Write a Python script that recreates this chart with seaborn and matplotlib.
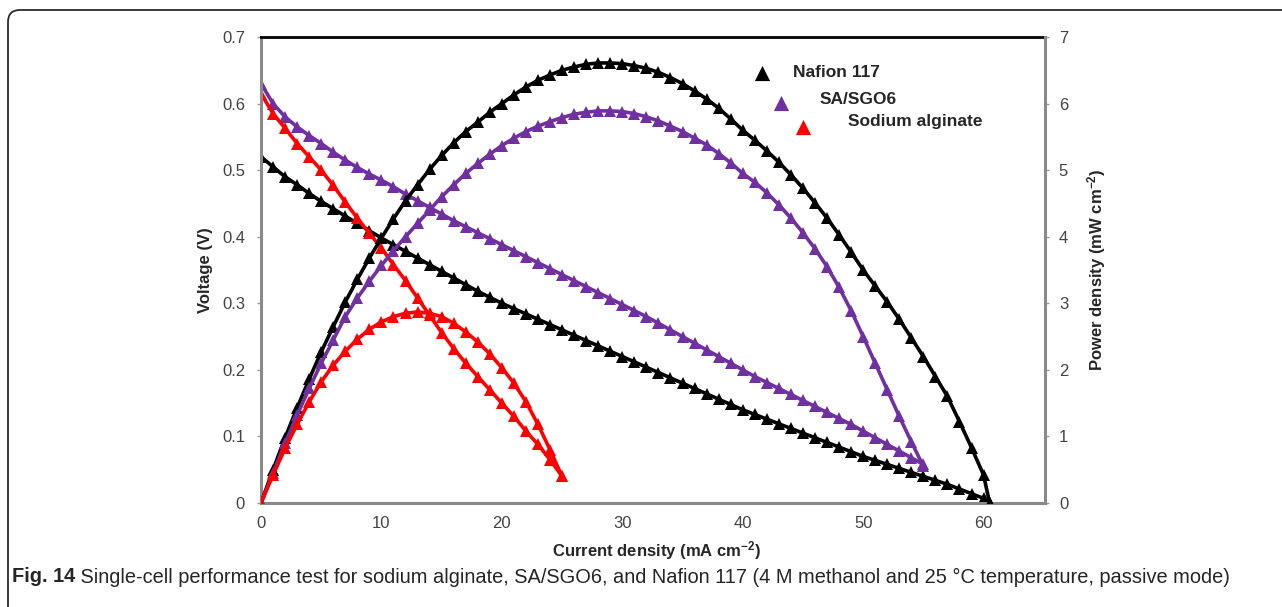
import matplotlib
matplotlib.use("Agg")
import matplotlib.pyplot as plt
import seaborn as sns
from matplotlib.path import Path
from matplotlib.patches import PathPatch


# Current density (mA cm-2)
current_nafion = list(range(0, 61)) + [60.5]
current_sgo = list(range(0, 56))
current_sa = list(range(0, 26))

# Voltage (V)
voltage_nafion = [
    0.520, 0.505, 0.490, 0.478, 0.465, 0.453, 0.442, 0.431, 0.420, 0.409,
    0.398, 0.388, 0.378, 0.368, 0.358, 0.348, 0.338, 0.328, 0.318, 0.309,
    0.300, 0.292, 0.284, 0.276, 0.268, 0.260, 0.252, 0.244, 0.236, 0.228,
    0.220, 0.212, 0.204, 0.196, 0.188, 0.180, 0.172, 0.164, 0.156, 0.148,
    0.140, 0.133, 0.126, 0.119, 0.112, 0.105, 0.098, 0.091, 0.084, 0.077,
    0.070, 0.064, 0.058, 0.052, 0.046, 0.040, 0.034, 0.028, 0.021, 0.014,
    0.007, 0.000
]
voltage_sgo = [
    0.630, 0.600, 0.580, 0.565, 0.552, 0.540, 0.527, 0.515, 0.504, 0.494,
    0.485, 0.475, 0.464, 0.454, 0.444, 0.434, 0.424, 0.415, 0.406, 0.397,
    0.388, 0.379, 0.370, 0.361, 0.352, 0.343, 0.334, 0.325, 0.316, 0.307,
    0.298, 0.289, 0.280, 0.270, 0.260, 0.250, 0.240, 0.230, 0.220, 0.210,
    0.200, 0.190, 0.181, 0.172, 0.163, 0.154, 0.145, 0.136, 0.127, 0.118,
    0.108, 0.098, 0.088, 0.078, 0.068, 0.058
]
voltage_sa = [
    0.615, 0.585, 0.563, 0.540, 0.520, 0.500, 0.477, 0.452, 0.428, 0.405,
    0.383, 0.358, 0.334, 0.308, 0.282, 0.256, 0.232, 0.210, 0.190, 0.170,
    0.150, 0.130, 0.108, 0.088, 0.065, 0.040
]

# Power density (mW cm-2)
power_nafion = [
    0.00, 0.50, 0.98, 1.43, 1.86, 2.27, 2.65, 3.02, 3.36, 3.68,
    3.98, 4.27, 4.54, 4.78, 5.01, 5.22, 5.41, 5.58, 5.72, 5.87,
    6.00, 6.13, 6.25, 6.35, 6.43, 6.50, 6.55, 6.59, 6.61, 6.61,
    6.60, 6.57, 6.53, 6.47, 6.39, 6.30, 6.19, 6.07, 5.93, 5.77,
    5.60, 5.45, 5.29, 5.12, 4.93, 4.73, 4.51, 4.28, 4.03, 3.77,
    3.50, 3.26, 3.02, 2.76, 2.48, 2.20, 1.90, 1.60, 1.22, 0.83,
    0.42, 0.00
]
power_sgo = [
    0.00, 0.45, 0.90, 1.32, 1.72, 2.10, 2.45, 2.80, 3.08, 3.33,
    3.57, 3.79, 4.00, 4.20, 4.40, 4.60, 4.78, 4.95, 5.10, 5.24,
    5.37, 5.48, 5.58, 5.66, 5.73, 5.79, 5.84, 5.87, 5.89, 5.89,
    5.88, 5.85, 5.80, 5.74, 5.66, 5.58, 5.48, 5.38, 5.25, 5.11,
    4.95, 4.82, 4.66, 4.48, 4.28, 4.06, 3.82, 3.55, 3.24, 2.89,
    2.50, 2.10, 1.70, 1.30, 0.92, 0.55
]
power_sa = [
    0.00, 0.42, 0.82, 1.18, 1.52, 1.82, 2.07, 2.28, 2.46, 2.61,
    2.72, 2.80, 2.85, 2.87, 2.85, 2.80, 2.70, 2.57, 2.42, 2.24,
    2.03, 1.80, 1.52, 1.18, 0.80, 0.40
]

labels = ["Nafion 117", "SA/SGO6", "Sodium alginate"]
colors = ["black", "#7030A0", "#FF0000"]

sns.set_style("white")
plt.rcParams["font.family"] = ["Liberation Sans", "DejaVu Sans"]
plt.rcParams["mathtext.default"] = "regular"

W, H = 1282, 607
fig = plt.figure(figsize=(W / 100, H / 100), dpi=100)
ax = fig.add_axes([261 / W, 104 / H, 784 / W, 466 / H])
ax2 = ax.twinx()

line_kw = dict(marker="^", markersize=9, markeredgewidth=0, linewidth=2.6)

# Polarization curves (left axis)
for cur, volt, col in zip(
    [current_nafion, current_sgo, current_sa],
    [voltage_nafion, voltage_sgo, voltage_sa],
    colors
):
    sns.lineplot(x=cur, y=volt, ax=ax, color=col, **line_kw)

# Power density curves (right axis)
for cur, pw, col in zip(
    [current_nafion, current_sgo, current_sa],
    [power_nafion, power_sgo, power_sa],
    colors
):
    sns.lineplot(x=cur, y=pw, ax=ax2, color=col, **line_kw)

ax.set_xlim(0, 65.1)
ax.set_ylim(0, 0.7)
ax2.set_ylim(0, 7)

ax.set_xticks(range(0, 61, 10))
ax.set_yticks([i / 10 for i in range(8)])
ax.set_yticklabels(["0"] + [f"{i / 10:.1f}" for i in range(1, 8)])
ax2.set_yticks(range(8))

tick_kw = dict(direction="out", length=3, width=1, color="#9a9a9a",
               labelcolor="#444444", labelsize=12)
ax.tick_params(axis="x", pad=6.5, **tick_kw)
ax.tick_params(axis="y", left=True, pad=8.5, **tick_kw)
ax2.tick_params(axis="y", right=True, pad=7, **tick_kw)

# Spines
for s in ["left", "bottom"]:
    ax.spines[s].set_color("#8a8a8a")
    ax.spines[s].set_linewidth(2.2)
ax.spines["top"].set_color("black")
ax.spines["top"].set_linewidth(2)
ax.spines["right"].set_visible(False)
for s in ["left", "bottom", "top"]:
    ax2.spines[s].set_visible(False)
ax2.spines["right"].set_color("#8a8a8a")
ax2.spines["right"].set_linewidth(2.2)
ax2.spines["right"].set_visible(True)

ax.set_xlabel("Current density (mA cm$^{-2}$)", fontsize=12,
              fontweight="bold", va="center")
ax.xaxis.set_label_coords(0.505, -0.101)
ax.set_ylabel("Voltage (V)", fontsize=12, fontweight="bold", va="center")
ax.yaxis.set_label_coords(-0.0714, 0.5)
ax2.set_ylabel("Power density (mW cm$^{-2}$)", fontsize=12,
               fontweight="bold", va="center", rotation=90)
ax2.yaxis.set_label_coords(1.0663, 0.5)

# Staggered legend
leg_markers = [(0.639, 0.923), (0.663, 0.858), (0.691, 0.807)]
leg_texts = [(0.679, 0.923), (0.712, 0.865), (0.749, 0.818)]
for (mx, my), (tx, ty), lab, col in zip(leg_markers, leg_texts, labels, colors):
    ax2.scatter([mx], [my], marker="^", s=120, color=col, linewidths=0,
                transform=ax2.transAxes, clip_on=False, zorder=5)
    ax2.text(tx, ty, lab, transform=ax2.transAxes, fontsize=12.5,
             fontweight="bold", va="center", ha="left")

# Rounded frame (top and left edges)
verts = [(8, H), (8, 22), (8, 10), (20, 10), (W, 10)]
codes = [Path.MOVETO, Path.LINETO, Path.CURVE3, Path.CURVE3, Path.LINETO]
verts = [(x / W, 1 - y / H) for x, y in verts]
frame = PathPatch(Path(verts, codes), facecolor="none", edgecolor="#2a2a2a",
                  linewidth=1.3, transform=fig.transFigure)
fig.patches.append(frame)

# Caption, sized to span the same width as the original
cap_bold = "Fig. 14"
cap_rest = (" Single-cell performance test for sodium alginate, SA/SGO6, and "
            "Nafion 117 (4 M methanol and 25 \u00b0C temperature, passive mode)")
renderer = fig.canvas.get_renderer()
fs = 13
t1 = fig.text(12 / W, 1 - 577 / H, cap_bold, fontsize=fs, fontweight="bold",
              va="center", ha="left")
t2 = fig.text(0, 1 - 577 / H, cap_rest, fontsize=fs, va="center", ha="left")
total = t1.get_window_extent(renderer).width + t2.get_window_extent(renderer).width
fs = fs * 1220 / total
t1.set_fontsize(fs)
t2.set_fontsize(fs)
w1 = t1.get_window_extent(renderer).width
t2.set_x((12 + w1) / W)

plt.savefig("out.png", dpi=100)
plt.close()
